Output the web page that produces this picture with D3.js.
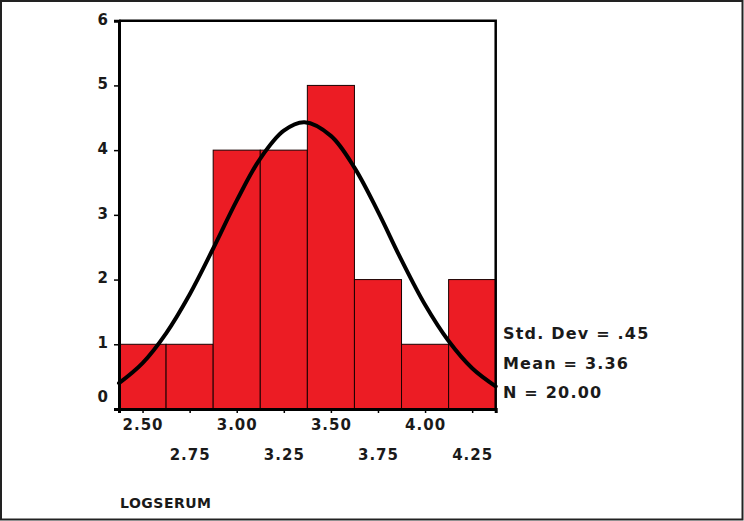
<!DOCTYPE html>
<html>
<head>
<meta charset="utf-8">
<script src="https://cdn.jsdelivr.net/npm/d3@7"></script>
<style>
  html, body { margin: 0; padding: 0; background: #fff; }
  svg { display: block; }
  text { font-family: "DejaVu Sans", "Liberation Sans", sans-serif; font-weight: bold; fill: #1a1a1a; }
</style>
</head>
<body>
<svg id="chart" width="744" height="521"></svg>
<script>
// ---- data ----
const binCenters = [2.50, 2.75, 3.00, 3.25, 3.50, 3.75, 4.00, 4.25];
const counts     = [1, 1, 4, 4, 5, 2, 1, 2];
const binWidth = 0.25;
const yTicks = [0, 1, 2, 3, 4, 5, 6];
const xTickLabels = ["2.50", "2.75", "3.00", "3.25", "3.50", "3.75", "4.00", "4.25"];
// fitted normal curve
const curveX = [2.375, 2.5, 2.625, 2.75, 2.875, 3.0, 3.125, 3.25, 3.36, 3.5, 3.625, 3.75, 3.875, 4.0, 4.125, 4.25, 4.375];
const curveY = [0.40, 0.71, 1.17, 1.77, 2.48, 3.22, 3.87, 4.30, 4.43, 4.22, 3.73, 3.05, 2.30, 1.61, 1.05, 0.63, 0.35];
const statsLines = ["Std. Dev = .45", "Mean = 3.36", "N = 20.00"];
const axisTitle = "LOGSERUM";

// ---- layout ----
const svg = d3.select("#chart");
const W = 744, H = 521;
const plot = { left: 119, right: 495.7, top: 20.7, bottom: 409 };

const x = d3.scaleLinear()
  .domain([binCenters[0] - binWidth / 2, binCenters[binCenters.length - 1] + binWidth / 2])
  .range([plot.left, plot.right]);
const y = d3.scaleLinear().domain([0, 6]).range([plot.bottom, plot.top]);

// outer image frame
svg.append("rect")
  .attr("x", 1).attr("y", 1).attr("width", W - 2.5).attr("height", H - 2.5)
  .attr("fill", "none").attr("stroke", "#222").attr("stroke-width", 2);

// bars
svg.append("g").selectAll("rect")
  .data(binCenters.map((c, i) => ({ c, n: counts[i] })))
  .join("rect")
  .attr("x", d => x(d.c - binWidth / 2))
  .attr("y", d => y(d.n))
  .attr("width", d => x(d.c + binWidth / 2) - x(d.c - binWidth / 2))
  .attr("height", d => y(0) - y(d.n))
  .attr("fill", "#ec1c24")
  .attr("stroke", "#1a0000")
  .attr("stroke-width", 1);

// normal curve
const line = d3.line()
  .x((d, i) => x(curveX[i]))
  .y(d => y(d))
  .curve(d3.curveCatmullRom);
svg.append("path")
  .datum(curveY)
  .attr("d", line)
  .attr("fill", "none")
  .attr("stroke", "#000")
  .attr("stroke-width", 4)
  .attr("stroke-linecap", "round");

// plot frame (top + right)
svg.append("path")
  .attr("d", `M${plot.left},${plot.top}H${plot.right}V${plot.bottom}`)
  .attr("fill", "none").attr("stroke", "#000").attr("stroke-width", 2.5);

// y axis
const yAxis = d3.axisLeft(y).tickValues(yTicks).tickSize(5).tickFormat(d3.format("d"));
const gy = svg.append("g").attr("transform", `translate(${plot.left},0)`).call(yAxis);
gy.select(".domain").attr("stroke", "#000").attr("stroke-width", 3);
gy.selectAll(".tick line").attr("stroke", "#000").attr("stroke-width", 1.5);
gy.selectAll(".tick text")
  .attr("font-size", 15)
  .attr("font-family", "DejaVu Sans, sans-serif")
  .attr("font-weight", "bold")
  .attr("fill", "#1a1a1a")
  .attr("x", -11)
  .attr("dy", d => d === 0 ? "-0.5em" : "0.22em");

// x axis
const xAxis = d3.axisBottom(x).tickValues(binCenters).tickSize(4)
  .tickFormat((d, i) => xTickLabels[i]);
const gx = svg.append("g").attr("transform", `translate(0,${plot.bottom})`).call(xAxis);
gx.select(".domain").attr("stroke", "#000").attr("stroke-width", 3);
gx.selectAll(".tick line").attr("stroke", "#000").attr("stroke-width", 1.5);
gx.selectAll(".tick text")
  .attr("font-size", 15)
  .attr("font-family", "DejaVu Sans, sans-serif")
  .attr("font-weight", "bold")
  .attr("fill", "#1a1a1a")
  .attr("letter-spacing", 1)
  .attr("y", (d, i) => i % 2 === 0 ? 10 : 40)
  .attr("dy", "0.71em");

// axis title
svg.append("text")
  .attr("x", 120).attr("y", 508)
  .attr("font-size", 14)
  .attr("letter-spacing", 0.5)
  .text(axisTitle);

// stats
svg.append("g").selectAll("text")
  .data(statsLines)
  .join("text")
  .attr("x", 503)
  .attr("y", (d, i) => 339 + i * 29.5)
  .attr("font-size", 16)
  .attr("letter-spacing", 1.2)
  .text(d => d);
</script>
</body>
</html>
